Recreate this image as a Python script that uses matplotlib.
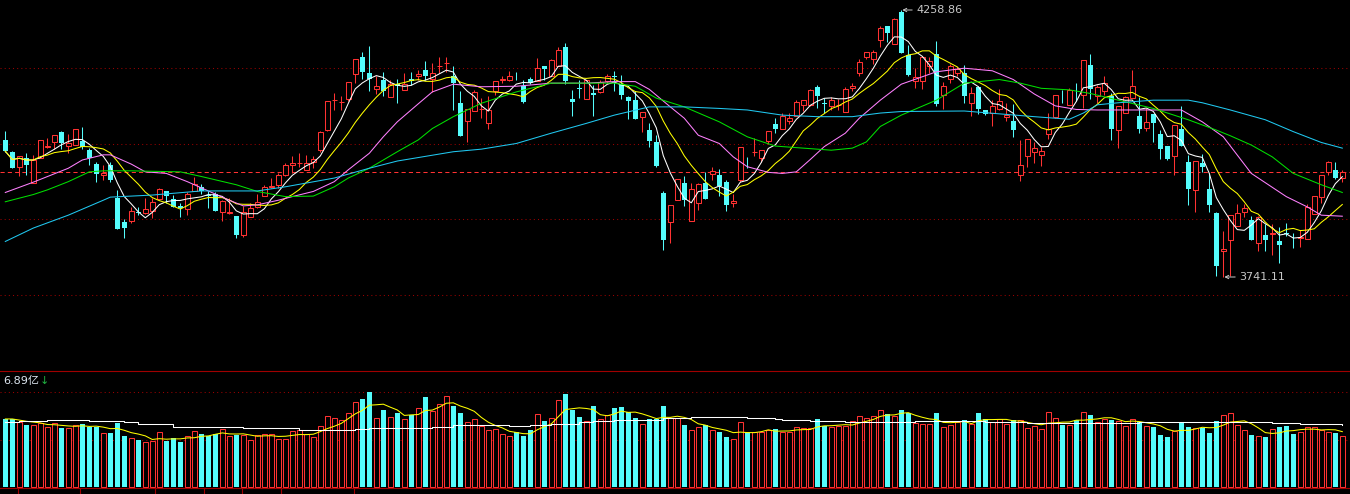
import numpy as np
import pandas as pd
import matplotlib
matplotlib.use("Agg")
import matplotlib.pyplot as plt
from matplotlib.lines import Line2D

# daily candles (index points)
open_ = [4007, 3984, 3954, 3972, 3923, 3972, 3993, 4003, 4022, 3996,
         3997, 4005, 3987, 3960, 3938, 3958, 3895, 3848, 3850, 3867,
         3865, 3869, 3893, 3908, 3892, 3879, 3873, 3908, 3915, 3901,
         3903, 3868, 3865, 3859, 3822, 3857, 3877, 3899, 3916, 3920,
         3938, 3958, 3962, 3948, 3964, 3987, 4026, 4084, 4080, 4086,
         4135, 4167, 4136, 4106, 4124, 4090, 4115, 4103, 4125, 4131,
         4142, 4126, 4150, 4156, 4130, 4078, 4044, 4063, 4066, 4039,
         4102, 4124, 4124, 4135, 4112, 4126, 4122, 4150, 4131, 4151,
         4187, 4086, 4108, 4086, 4098, 4099, 4122, 4131, 4115, 4091,
         4084, 4052, 4026, 4003, 3904, 3848, 3890, 3924, 3850, 3884,
         3923, 3940, 3939, 3925, 3884, 3929, 3965, 3983, 3971, 4005,
         4038, 4029, 4043, 4053, 4075, 4074, 4109, 4079, 4073, 4074,
         4062, 4107, 4136, 4168, 4163, 4201, 4228, 4193, 4255, 4172,
         4121, 4122, 4150, 4174, 4095, 4125, 4136, 4137, 4079, 4110,
         4065, 4060, 4067, 4052, 4044, 3938, 3976, 3984, 3978, 4018,
         4052, 4091, 4074, 4091, 4094, 4152, 4093, 4102, 4092, 4026,
         4059, 4089, 4053, 4031, 4057, 4018, 3995, 3976, 4029, 3965,
         3910, 3962, 3912, 3865, 3791, 3812, 3840, 3868, 3852, 3808,
         3823, 3824, 3811, 3826, 3817, 3816, 3814, 3863, 3896, 3944,
         3949, 3933]
high = [4025, 3985, 3976, 3982, 3978, 4007, 4011, 4016, 4024, 4018,
        4028, 4032, 3991, 3965, 3958, 3965, 3910, 3854, 3877, 3877,
        3894, 3894, 3914, 3908, 3900, 3885, 3905, 3935, 3921, 3907,
        3905, 3890, 3895, 3859, 3879, 3884, 3902, 3920, 3934, 3943,
        3962, 3976, 3981, 3978, 3976, 4024, 4082, 4097, 4092, 4120,
        4163, 4177, 4190, 4130, 4138, 4124, 4126, 4136, 4139, 4142,
        4160, 4157, 4167, 4167, 4150, 4102, 4067, 4104, 4088, 4093,
        4121, 4131, 4140, 4139, 4123, 4128, 4165, 4150, 4164, 4187,
        4195, 4104, 4123, 4124, 4113, 4123, 4135, 4140, 4133, 4093,
        4102, 4061, 4039, 4016, 3907, 3881, 3931, 3936, 3923, 3924,
        3945, 3955, 3950, 3929, 3903, 3993, 3974, 4010, 3987, 4024,
        4049, 4059, 4059, 4084, 4084, 4105, 4113, 4088, 4091, 4086,
        4110, 4118, 4163, 4178, 4181, 4228, 4228, 4243, 4258.86, 4191,
        4146, 4170, 4167, 4199, 4120, 4155, 4149, 4152, 4110, 4111,
        4065, 4084, 4105, 4079, 4077, 4007, 4008, 4003, 3994, 4059,
        4094, 4104, 4107, 4117, 4162, 4174, 4113, 4131, 4097, 4073,
        4092, 4143, 4091, 4068, 4057, 4026, 3995, 4036, 4073, 3978,
        3966, 3979, 3942, 3868, 3830, 3862, 3883, 3883, 3859, 3859,
        3844, 3843, 3839, 3846, 3827, 3832, 3883, 3881, 3939, 3966,
        3965, 3949]
low = [3984, 3952, 3936, 3938, 3923, 3972, 3991, 3989, 3989, 3982,
       3997, 3989, 3958, 3926, 3929, 3926, 3835, 3816, 3845, 3861,
       3863, 3856, 3890, 3885, 3877, 3858, 3861, 3907, 3903, 3875,
       3870, 3850, 3863, 3816, 3818, 3857, 3874, 3899, 3913, 3913,
       3936, 3943, 3955, 3948, 3953, 3984, 4025, 4065, 4065, 4083,
       4118, 4126, 4102, 4096, 4093, 4090, 4079, 4103, 4113, 4123,
       4123, 4100, 4136, 4138, 4064, 4015, 4002, 4063, 4049, 4029,
       4095, 4117, 4122, 4124, 4078, 4115, 4122, 4123, 4130, 4151,
       4115, 4053, 4088, 4086, 4053, 4098, 4118, 4102, 4086, 4047,
       4048, 4023, 3994, 3955, 3793, 3808, 3890, 3879, 3850, 3871,
       3892, 3929, 3898, 3870, 3876, 3926, 3952, 3976, 3964, 3999,
       4020, 4029, 4038, 4053, 4063, 4073, 4069, 4059, 4065, 4064,
       4062, 4102, 4131, 4163, 4154, 4187, 4197, 4193, 4176, 4130,
       4108, 4106, 4137, 4073, 4067, 4118, 4130, 4078, 4054, 4057,
       4055, 4033, 4065, 4044, 4013, 3928, 3955, 3963, 3957, 4008,
       4049, 4078, 4074, 4083, 4068, 4086, 4078, 4094, 4007, 3992,
       4059, 4089, 4020, 4024, 4003, 3970, 3968, 3938, 3996, 3881,
       3868, 3945, 3868, 3743, 3741.11, 3743, 3840, 3858, 3813, 3792,
       3792, 3784, 3768, 3821, 3797, 3799, 3814, 3863, 3885, 3939,
       3931, 3926]
close = [3985, 3953, 3976, 3958, 3968, 4007, 3995, 4016, 4001, 4000,
         4028, 3993, 3971, 3940, 3943, 3930, 3835, 3837, 3869, 3866,
         3873, 3887, 3912, 3898, 3877, 3874, 3902, 3922, 3908, 3899,
         3870, 3888, 3867, 3823, 3868, 3874, 3887, 3915, 3918, 3938,
         3958, 3962, 3963, 3963, 3969, 4022, 4082, 4085, 4081, 4119,
         4163, 4139, 4126, 4111, 4101, 4115, 4112, 4115, 4121, 4135,
         4131, 4137, 4151, 4157, 4117, 4015, 4067, 4100, 4067, 4065,
         4121, 4126, 4130, 4134, 4081, 4117, 4146, 4144, 4161, 4181,
         4122, 4081, 4106, 4123, 4095, 4120, 4130, 4128, 4094, 4082,
         4048, 4061, 4005, 3956, 3812, 3881, 3931, 3890, 3911, 3921,
         3892, 3946, 3918, 3880, 3888, 3993, 3964, 3984, 3987, 4024,
         4028, 4053, 4049, 4080, 4084, 4104, 4093, 4077, 4084, 4075,
         4105, 4111, 4158, 4178, 4177, 4223, 4215, 4241, 4176, 4133,
         4128, 4167, 4159, 4076, 4111, 4150, 4144, 4093, 4097, 4067,
         4057, 4073, 4082, 4055, 4026, 3958, 4008, 3991, 3985, 4029,
         4094, 4090, 4104, 4090, 4162, 4105, 4109, 4118, 4028, 4073,
         4091, 4111, 4028, 4041, 4040, 3989, 3969, 4036, 3996, 3912,
         3966, 3955, 3881, 3762, 3795, 3862, 3865, 3874, 3813, 3857,
         3813, 3826, 3803, 3825, 3816, 3819, 3876, 3898, 3938, 3964,
         3934, 3944]
# turnover, 亿
volume = [4.95, 4.95, 4.71, 4.51, 4.51, 4.63, 4.37, 4.63, 4.29, 4.29,
          4.49, 4.58, 4.39, 4.39, 3.93, 3.93, 4.66, 3.71, 3.54, 3.42,
          3.27, 3.35, 4.00, 3.35, 3.54, 3.27, 3.69, 4.07, 3.86, 3.69,
          3.86, 4.20, 3.71, 3.81, 3.76, 3.42, 3.76, 3.86, 3.86, 3.49,
          3.49, 4.07, 4.17, 3.83, 3.64, 4.44, 5.17, 5.02, 4.87, 5.38,
          6.18, 6.40, 6.93, 5.02, 5.60, 5.09, 5.38, 4.95, 5.22, 5.73,
          6.55, 5.53, 6.04, 6.62, 5.89, 5.38, 4.71, 4.93, 4.42, 4.13,
          4.20, 3.83, 3.69, 3.98, 3.71, 4.15, 5.29, 4.80, 5.00, 6.31,
          6.77, 5.62, 5.09, 4.78, 5.89, 4.93, 5.22, 5.75, 5.82, 5.43,
          5.02, 4.58, 4.93, 4.93, 5.89, 5.00, 5.00, 4.51, 4.15, 4.34,
          4.51, 4.15, 4.00, 3.64, 3.47, 4.71, 3.98, 3.98, 3.98, 4.15,
          4.22, 4.02, 4.02, 4.34, 4.27, 4.27, 4.95, 4.42, 4.39, 4.46,
          4.46, 4.82, 5.14, 5.00, 5.14, 5.58, 5.31, 5.19, 5.60, 5.36,
          4.63, 4.58, 4.58, 5.38, 4.34, 4.51, 4.75, 4.87, 4.58, 5.38,
          4.95, 4.75, 4.93, 4.58, 4.87, 4.87, 4.27, 4.44, 4.20, 5.43,
          5.00, 4.51, 4.51, 4.87, 5.43, 5.24, 4.71, 4.93, 4.87, 4.82,
          4.44, 4.93, 4.75, 4.44, 4.37, 3.78, 3.64, 4.10, 4.71, 4.37,
          4.27, 4.27, 3.93, 4.80, 5.24, 5.36, 4.51, 4.15, 3.78, 3.71,
          3.64, 4.20, 4.37, 4.44, 3.86, 4.00, 4.37, 4.37, 4.15, 3.98,
          3.93, 3.71]

# longer moving averages at these candle positions
ma20_at = [0, 4, 9, 11, 14, 15, 18, 20, 23, 26, 29, 32, 34, 36, 39, 41, 44, 47, 49, 52,
           54, 56, 59, 61, 64, 68, 73, 78, 83, 87, 90, 92, 95, 97, 99, 102, 104, 106, 109, 111,
           113, 115, 117, 120, 122, 125, 128, 133, 137, 141, 144, 147, 150, 153, 156, 161, 166, 168, 171, 174,
           178, 183, 186, 188, 191]
ma20_val = [3905, 3925, 3952, 3968, 3978, 3978, 3960, 3945, 3942, 3926, 3908, 3890, 3879, 3881, 3890, 3897, 3907, 3926, 3949, 3981,
            4013, 4042, 4077, 4100, 4115, 4110, 4111, 4117, 4117, 4120, 4120, 4105, 4071, 4049, 4016, 4000, 3974, 3955, 3944, 3942,
            3945, 3969, 3994, 4020, 4049, 4084, 4115, 4139, 4146, 4141, 4124, 4096, 4073, 4066, 4065, 4065, 4065, 4065, 4042, 4013,
            3942, 3897, 3877, 3861, 3859]
ma30_at = [0, 4, 6, 9, 12, 14, 18, 25, 28, 33, 36, 40, 44, 47, 49, 52, 54, 56, 59, 61,
           64, 68, 73, 78, 83, 87, 90, 93, 97, 102, 106, 110, 114, 118, 121, 123, 125, 128, 133, 137,
           142, 145, 148, 152, 155, 159, 164, 169, 173, 175, 178, 181, 184, 188, 191]
ma30_val = [3887, 3901, 3910, 3926, 3945, 3947, 3947, 3945, 3936, 3920, 3907, 3897, 3898, 3916, 3933, 3952, 3968, 3984, 4007, 4029,
            4052, 4078, 4100, 4117, 4117, 4117, 4111, 4088, 4071, 4042, 4013, 3995, 3991, 3987, 3991, 4003, 4033, 4055, 4084, 4117,
            4124, 4117, 4107, 4104, 4097, 4084, 4068, 4046, 4026, 4015, 3997, 3974, 3942, 3920, 3905]
ma60_at = [0, 4, 9, 14, 15, 21, 28, 36, 40, 47, 52, 56, 64, 68, 73, 78, 83, 87, 92, 97,
           102, 106, 111, 116, 121, 125, 128, 137, 147, 152, 154, 156, 159, 164, 169, 171, 175, 180, 184, 188,
           191]
ma60_val = [3810, 3836, 3861, 3890, 3896, 3900, 3908, 3908, 3916, 3933, 3952, 3966, 3984, 3989, 4000, 4020, 4039, 4055, 4071, 4071,
            4068, 4065, 4055, 4052, 4052, 4059, 4062, 4063, 4052, 4047, 4059, 4075, 4079, 4084, 4084, 4079, 4065, 4046, 4023, 4002,
            3991]
vol_ma_at = [0, 2, 6, 12, 17, 19, 24, 34, 42, 50, 52, 61, 64, 72, 75, 78, 82, 84, 87, 94,
             98, 106, 110, 111, 115, 120, 124, 128, 130, 140, 146, 162, 181, 185, 191]
vol_ma_val = [4.71, 4.80, 4.85, 4.78, 4.71, 4.61, 4.37, 4.27, 4.13, 4.22, 4.27, 4.37, 4.49, 4.42, 4.49, 4.61, 4.71, 4.78, 4.85, 5.00,
              5.07, 5.00, 4.93, 4.85, 4.78, 4.71, 4.71, 4.71, 4.78, 4.71, 4.63, 4.71, 4.63, 4.56, 4.49]

price_grid = [4145.81, 3998.43, 3853.0, 3705.62]
vol_top = 6.89
vol_label = "6.89亿"
hi_idx, lo_idx = 128, 174

RED = "#ff3232"
CYAN = "#54fcfc"
DARK = "#9a0000"
W, H = 1350, 494

fig = plt.figure(figsize=(W / 100, H / 100), dpi=100, facecolor="black")
ax = fig.add_axes([0, 1 - 371 / H, 1, 371 / H], facecolor="black")
axv = fig.add_axes([0, 1 - 488 / H, 1, 117 / H], facecolor="black")
for a in (ax, axv):
    a.set_xlim(-0.757, 192.1)
    a.axis("off")
ax.set_ylim(3558.83, 4278.25)
axv.set_ylim(-0.073, 8.44)

o = np.array(open_, float)
h = np.array(high, float)
l = np.array(low, float)
c = np.array(close, float)
v = np.array(volume, float)
x = np.arange(len(c))
up = c >= o

dotted = (0, (1, 3))
for g in price_grid:
    ax.axhline(g, color=DARK, lw=0.75, ls=dotted, zorder=0)
ax.axhline(c[-1], color=RED, lw=0.75, ls=(0, (4, 3)), zorder=0)
for g in (vol_top, vol_top / 2):
    axv.axhline(g, color=DARK, lw=0.75, ls=dotted, zorder=0)

# candles: hollow red for up days, solid cyan for down days
bot = np.minimum(o, c)
top = np.maximum(o, c)
ax.vlines(x[~up], l[~up], h[~up], color=CYAN, lw=0.75, zorder=2)
ax.bar(x[~up], np.maximum(top - bot, 0.6)[~up], bottom=bot[~up], width=0.72,
       color=CYAN, lw=0, zorder=3)
ax.vlines(x[up], top[up], h[up], color=RED, lw=0.75, zorder=2)
ax.vlines(x[up], l[up], bot[up], color=RED, lw=0.75, zorder=2)
ax.bar(x[up], (top - bot)[up], bottom=bot[up], width=0.64, facecolor="black",
       edgecolor=RED, lw=0.75, zorder=3)

# moving averages
cs = pd.Series(c)
ax.plot(x, cs.rolling(5, min_periods=1).mean(), color="white", lw=0.75, zorder=4)
ax.plot(x, cs.rolling(10, min_periods=1).mean(), color="#ffff00", lw=0.75, zorder=4)
ax.plot(ma20_at, ma20_val, color="#ff80ff", lw=0.75, zorder=4)
ax.plot(ma30_at, ma30_val, color="#00e000", lw=0.75, zorder=4)
ax.plot(ma60_at, ma60_val, color="#20c8f0", lw=0.75, zorder=4)

lab = dict(fontsize=8, color="#c8c8c8", ha="left", va="center", zorder=6,
           arrowprops=dict(arrowstyle="->", color="#c8c8c8", lw=0.7, shrinkA=1, shrinkB=0,
                           mutation_scale=6))
ax.annotate(f"{high[hi_idx]:.2f}", xy=(hi_idx + 0.15, high[hi_idx]), xytext=(14, 0),
            textcoords="offset pixels", **lab)
ax.annotate(f"{low[lo_idx]:.2f}", xy=(lo_idx + 0.15, low[lo_idx]), xytext=(15, 0),
            textcoords="offset pixels", **lab)

# volume pane
axv.bar(x[~up], v[~up], width=0.72, color=CYAN, lw=0, zorder=2)
axv.bar(x[up], v[up], width=0.64, facecolor="black", edgecolor=RED, lw=0.75, zorder=2)
axv.plot(x, pd.Series(v).rolling(5, min_periods=1).mean(), color="#ffff00", lw=0.75, zorder=4)
axv.plot(vol_ma_at, vol_ma_val, color="white", lw=0.75, drawstyle="steps-post", zorder=4)

fig.text(3 / W, 1 - 381 / H, vol_label, fontsize=8, color="#dde6f0", va="center",
         family=["DejaVu Sans", "Noto Sans CJK SC"])
fig.text(40 / W, 1 - 381 / H, "↓", fontsize=8, color="#20b040", va="center")

# pane borders and tab strip
for yy in (371, 488):
    fig.add_artist(Line2D([0, 1], [1 - yy / H] * 2, color="#a00000", lw=0.8))
for xx in (18, 80, 155, 204, 242, 281, 354):
    fig.add_artist(Line2D([xx / W] * 2, [0, 1 - 488 / H], color="#a00000", lw=0.8))

fig.savefig("out.png", facecolor="black", dpi=100)
